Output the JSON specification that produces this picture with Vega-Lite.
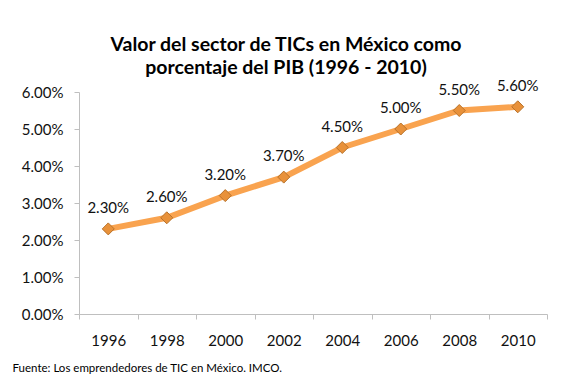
{
  "$schema": "https://vega.github.io/schema/vega-lite/v6.json",
  "width": 468,
  "height": 222,
  "autosize": {"type": "none"},
  "padding": {"left": 79, "top": 92, "right": 28, "bottom": 67},
  "background": "white",
  "config": {"view": {"stroke": null}},
  "title": {
    "text": ["Valor del sector de TICs en México como", "porcentaje del PIB (1996 - 2010)"],
    "font": "Lato",
    "fontSize": 19.5,
    "fontWeight": "bold",
    "color": "#000000",
    "anchor": "middle",
    "frame": "group",
    "dx": -27,
    "dy": 12,
    "offset": 12,
    "lineHeight": 23
  },
  "data": {
    "values": [
      {"year": "1996", "value": 0.023},
      {"year": "1998", "value": 0.026},
      {"year": "2000", "value": 0.032},
      {"year": "2002", "value": 0.037},
      {"year": "2004", "value": 0.045},
      {"year": "2006", "value": 0.050},
      {"year": "2008", "value": 0.055},
      {"year": "2010", "value": 0.056}
    ]
  },
  "encoding": {
    "x": {
      "field": "year",
      "type": "ordinal",
      "bandPosition": 0.5,
      "scale": {"type": "band", "paddingInner": 0, "paddingOuter": 0},
      "axis": {
        "title": "Fuente: Los emprendedores de TIC en México. IMCO.",
        "titleFont": "Lato",
        "titleFontSize": 11.5,
        "titleFontWeight": "normal",
        "titleColor": "#000000",
        "titleAlign": "left",
        "titleBaseline": "middle",
        "titleX": -67,
        "titleY": 54,
        "labelAngle": 0,
        "labelFont": "Lato",
        "labelFontSize": 15,
        "labelColor": "#111111",
        "labelPadding": 14,
        "tickBand": "extent",
        "tickSize": 5,
        "tickColor": "#bfbfbf",
        "domainColor": "#bfbfbf",
        "grid": false
      }
    },
    "y": {
      "field": "value",
      "type": "quantitative",
      "scale": {"domain": [0, 0.06], "nice": false},
      "axis": {
        "title": null,
        "values": [0, 0.01, 0.02, 0.03, 0.04, 0.05, 0.06],
        "format": ".2%",
        "labelFont": "Lato",
        "labelFontSize": 15,
        "labelColor": "#111111",
        "labelPadding": 11,
        "tickSize": 5,
        "tickColor": "#bfbfbf",
        "domainColor": "#bfbfbf",
        "grid": false
      }
    }
  },
  "layer": [
    {"mark": {"type": "line", "color": "#F9A34F", "strokeWidth": 6}},
    {"mark": {"type": "point", "shape": "diamond", "size": 144, "filled": true, "fill": "#E8913A", "stroke": "#B8722A", "strokeWidth": 1, "opacity": 1}},
    {
      "mark": {"type": "text", "dy": -21, "font": "Lato", "fontSize": 15, "color": "#111111"},
      "encoding": {"text": {"field": "value", "type": "quantitative", "format": ".2%"}}
    }
  ]
}
